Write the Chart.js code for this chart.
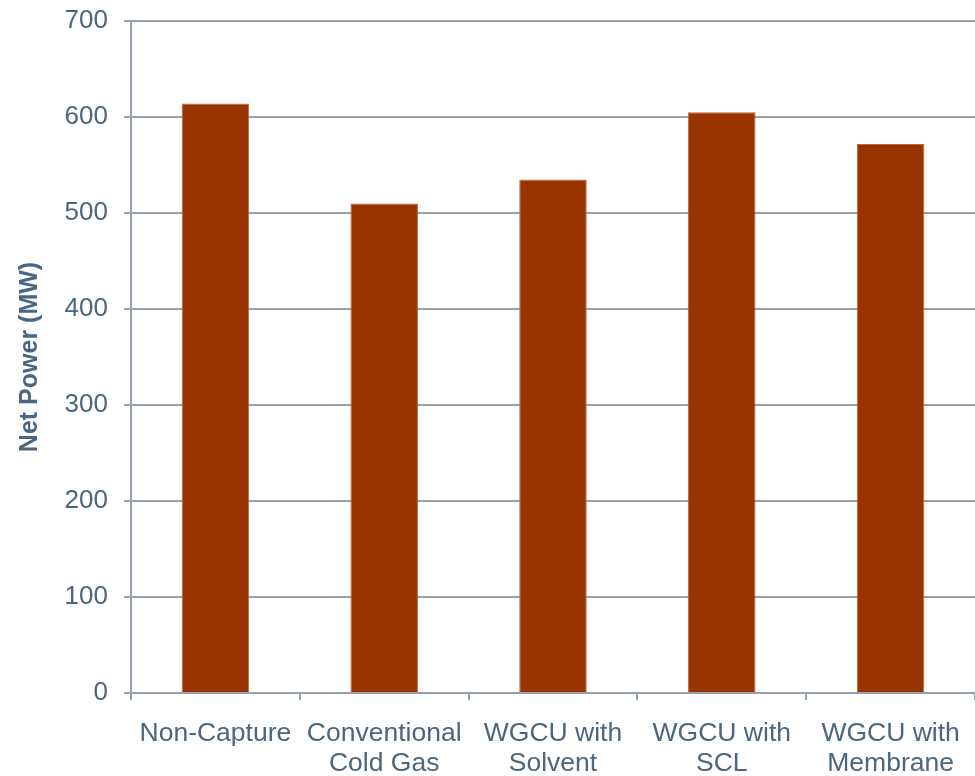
<!DOCTYPE html>
<html>
<head>
<meta charset="utf-8">
<script src="https://cdn.jsdelivr.net/npm/chart.js@4"></script>
<style>
  html, body { margin: 0; padding: 0; background: #ffffff; }
  #wrap { width: 975px; height: 776px; }
</style>
</head>
<body>
<div id="wrap"><canvas id="c" width="975" height="776"></canvas></div>
<script>
const categories = [
  ["Non-Capture"],
  ["Conventional", "Cold Gas"],
  ["WGCU with", "Solvent"],
  ["WGCU with", "SCL"],
  ["WGCU with", "Membrane"]
];
const netPower = [614, 510, 535, 605, 572];
const yTicks = [0, 100, 200, 300, 400, 500, 600, 700];
const yTitle = "Net Power (MW)";

const textColor = "#4a6680";
const gridColor = "#95a1ac";

new Chart(document.getElementById("c"), {
  type: "bar",
  data: {
    labels: categories,
    datasets: [{
      data: netPower,
      backgroundColor: "#993300",
      borderColor: "#b8643c",
      borderWidth: 1,
      barPercentage: 0.4,
      categoryPercentage: 1.0
    }]
  },
  options: {
    responsive: false,
    animation: false,
    devicePixelRatio: 1,
    layout: { padding: { top: 21, right: 0, left: 0, bottom: 0 } },
    plugins: { legend: { display: false }, tooltip: { enabled: false } },
    scales: {
      x: {
        grid: {
          offset: true,
          drawOnChartArea: false,
          drawTicks: true,
          tickLength: 7,
          color: gridColor,
          lineWidth: 2
        },
        border: { display: true, color: gridColor, width: 2 },
        ticks: {
          color: textColor,
          font: { family: "'Liberation Sans', Arial, sans-serif", size: 26.5, lineHeight: 1.16 },
          padding: 18,
          maxRotation: 0,
          autoSkip: false
        },
        afterFit: (s) => { s.height = 83; s.paddingLeft = 0; s.paddingRight = 0; }
      },
      y: {
        min: 0,
        max: 700,
        afterBuildTicks: (s) => { s.ticks = yTicks.map(v => ({ value: v })); },
        grid: {
          color: gridColor,
          lineWidth: 2,
          tickLength: 7,
          drawTicks: true
        },
        border: { display: true, color: gridColor, width: 2 },
        ticks: {
          color: textColor,
          font: { family: "'Liberation Sans', Arial, sans-serif", size: 26 },
          padding: 16
        },
        title: {
          display: true,
          text: yTitle,
          color: textColor,
          font: { family: "'Liberation Sans', Arial, sans-serif", size: 25, weight: "bold", lineHeight: 1.2 },
          padding: { top: 15, bottom: 0 }
        },
        afterFit: (s) => { s.width = 131; s.paddingTop = 0; s.paddingBottom = 0; }
      }
    }
  }
});
</script>
</body>
</html>
